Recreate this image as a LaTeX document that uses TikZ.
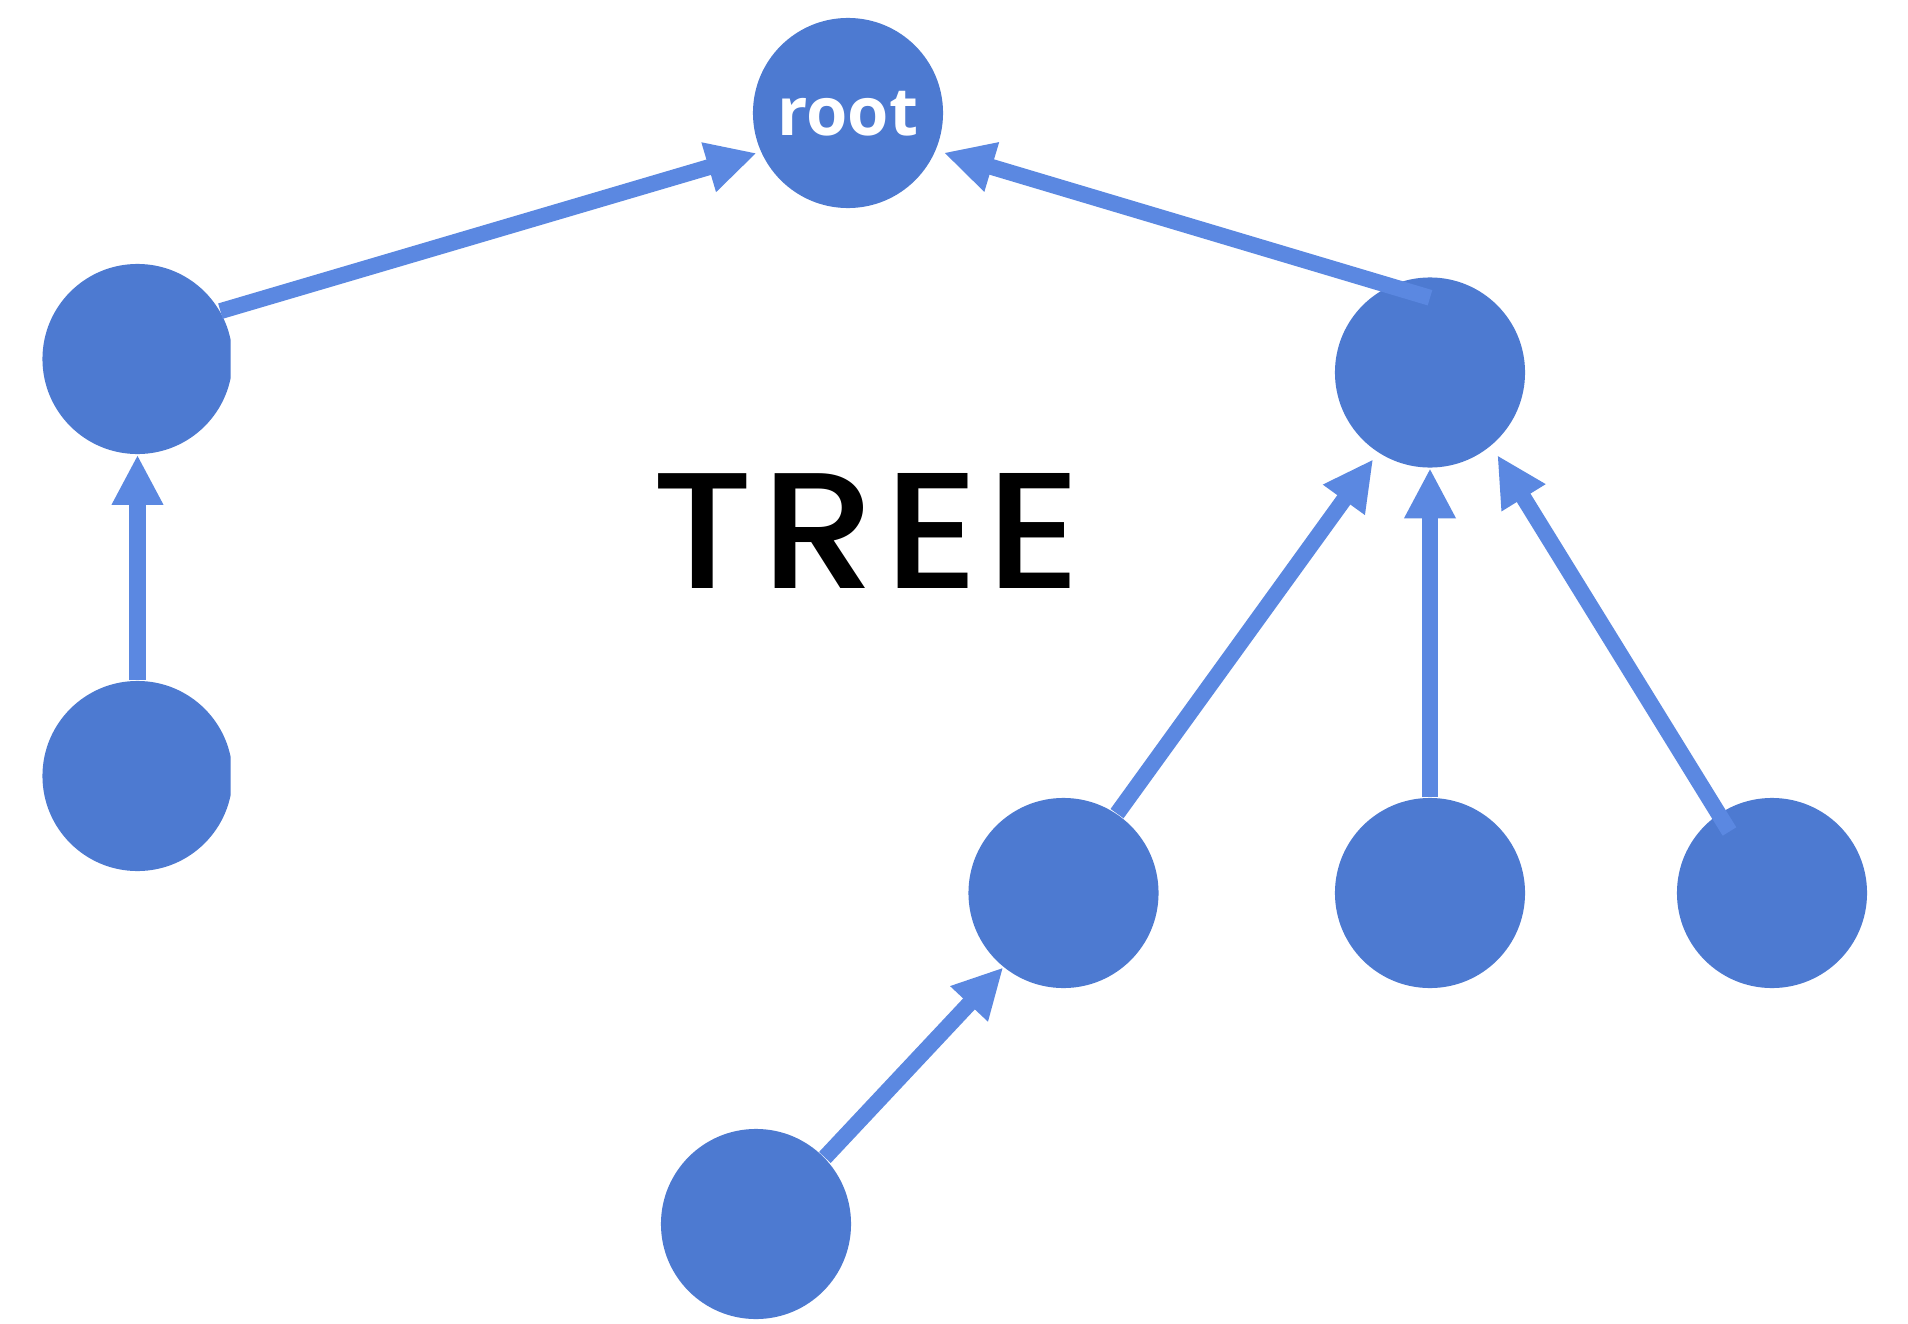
\documentclass[tikz,border=0pt]{standalone}
\usepackage{fontspec}
\usepackage{tikz}
\usetikzlibrary{positioning, arrows.meta}
\newfontfamily\poppins{Poppins}[BoldFont={* Medium}, FakeStretch=1.1, LetterSpace=4.5]
\newfontfamily\opensans{Open Sans}
\definecolor{NodeBlue}{RGB}{77,122,209}
\definecolor{EdgeBlue}{RGB}{91,136,225}
\tikzset{
  tnode/.style={circle, fill=NodeBlue, minimum size=1.9cm, inner sep=0pt, text=white,
    font=\opensans\bfseries\fontsize{19}{19}\selectfont},
  uparr/.style={-{Triangle[width=0.48cm, length=0.5cm]}, line width=0.16cm, EdgeBlue},
  bigtitle/.style={font=\poppins\bfseries\fontsize{47}{47}\selectfont, inner sep=0pt},
}

\begin{document}
\begin{tikzpicture}[x=0.01cm, y=-0.01cm]
    \fill[white] (0,0) rectangle (1908,1324);
    \useasboundingbox (0,0) rectangle (1908,1324);
    % the tree, one circle per node
    \node[tnode, text depth=-0.12cm] (root) at (848,113) {root};
    \begin{scope}
      \clip (0,0) rectangle (230.5,1324);
      \node[tnode] (l1) at (137.5,359) {};
      \node[tnode] (l2) at (137.5,776) {};
    \end{scope}
    \node[tnode] (r1) at (1430,372.5) {};
    \node[tnode] (mid) at (1063.5,893) {};
    \node[tnode] (c2) at (1430,893) {};
    \node[tnode] (c3) at (1772,893) {};
    \node[tnode] (bot) at (756,1224) {};
    \node[bigtitle] (tree) at (867,531) {TREE};
    % the edges, each one pointing up to its parent
    \draw[uparr, shorten >=0.04cm] (l1.30) -- (root.204);
    \draw[uparr, shorten >=0.08cm] ([yshift=-0.21cm]r1.north) -- (root.-23);
    \draw[uparr] (l2.north) -- (l1.south);
    \draw[uparr, shorten >=0.08cm] (mid.56) -- (r1.237);
    \draw[uparr] (c2.north) -- (r1.south);
    \draw[uparr, shorten <=-0.21cm, shorten >=0.11cm] (c3.124) -- (r1.-50);
    \draw[uparr] (bot.44) -- (mid.231);
  \end{tikzpicture}
\end{document}
